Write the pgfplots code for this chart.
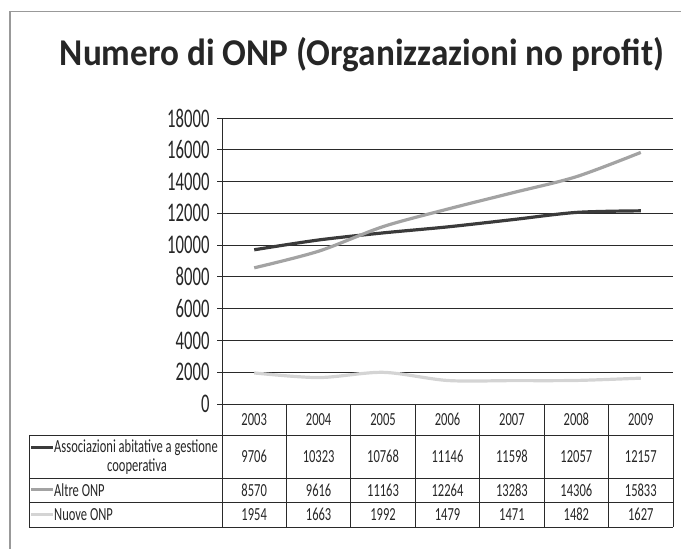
\documentclass[border=0pt]{standalone}
\usepackage{fontspec}
\setmainfont{Carlito}[FakeStretch=0.68]
\newfontfamily\titlefont{Carlito}[FakeStretch=0.93]
\newfontfamily\tickfont{Carlito}[FakeStretch=0.62]
\usepackage{pgfplots}
\pgfplotsset{compat=1.18}
\definecolor{cdark}{HTML}{3B3B3B}
\definecolor{cmid}{HTML}{A3A3A3}
\definecolor{clight}{HTML}{D4D4D4}
\definecolor{cgrid}{HTML}{2A2A2A}
\begin{document}
\begin{tikzpicture}[x=1bp,y=1bp]
\useasboundingbox (0,0) rectangle (681,549);
% outer frame
\draw[gray!80, line width=1.3bp] (10,0) -- (10,537.5) -- (681,537.5);
% title
\node[anchor=base, font=\titlefont\fontsize{38}{40}\selectfont\bfseries, text=black!85] at (362,483) {Numero di ONP (Organizzazioni no profit)};
\begin{axis}[
  at={(222bp,145bp)}, anchor=south west,
  width=451bp, height=286bp, scale only axis,
  xmin=0.5, xmax=7.5, ymin=0, ymax=18000,
  axis lines*=left,
  axis line style={cgrid, line width=0.9bp},
  xtick=\empty,
  ytick={0,2000,...,18000},
  scaled y ticks=false,
  yticklabel={\pgfmathprintnumber[fixed,precision=0,1000 sep={}]{\tick}},
  ymajorgrids, grid style={cgrid, line width=0.9bp},
  tick align=outside, major tick length=5bp,
  tick style={cgrid, line width=0.9bp},
  yticklabel style={font=\tickfont\fontsize{27}{29}\selectfont, text=black!85, xshift=-4bp},
  /pgf/number format/assume math mode=true,
  clip=false,
]
\addplot[cdark, line width=3.2bp, smooth, tension=0.5] coordinates {(1,9706) (2,10323) (3,10768) (4,11146) (5,11598) (6,12057) (7,12157)};
\addplot[cmid, line width=3.2bp, smooth, tension=0.5] coordinates {(1,8570) (2,9616) (3,11163) (4,12264) (5,13283) (6,14306) (7,15833)};
\addplot[clight, line width=3.2bp, smooth, tension=0.5] coordinates {(1,1954) (2,1663) (3,1992) (4,1479) (5,1471) (6,1482) (7,1627)};
\end{axis}
% table grid
\begin{scope}[cgrid, line width=0.9bp]
\foreach \yy in {435,478,502,527} \draw (29,549-\yy) -- (673,549-\yy);
\draw (29,549-435) -- (29,549-527);
\foreach \k in {0,...,7} \draw ({222+\k*64.43},549-404) -- ({222+\k*64.43},549-527);
\end{scope}
% table text
\begin{scope}[font=\fontsize{18.5}{20}\selectfont, text=black!85]
\foreach \yr [count=\i from 0] in {2003,2004,2005,2006,2007,2008,2009}
  \node at ({222+\i*64.43+32.2},549-419.5) {\yr};
\foreach \v [count=\i from 0] in {9706,10323,10768,11146,11598,12057,12157}
  \node at ({222+\i*64.43+32.2},549-456.5) {\v};
\foreach \v [count=\i from 0] in {8570,9616,11163,12264,13283,14306,15833}
  \node at ({222+\i*64.43+32.2},549-490) {\v};
\foreach \v [count=\i from 0] in {1954,1663,1992,1479,1471,1482,1627}
  \node at ({222+\i*64.43+32.2},549-514.5) {\v};
\node[anchor=west, inner sep=0pt] at (54,549-448) {Associazioni abitative a gestione};
\node[inner sep=0pt] at (137,549-467) {cooperativa};
\node[anchor=west, inner sep=0pt] at (54,549-490) {Altre ONP};
\node[anchor=west, inner sep=0pt] at (54,549-515) {Nuove ONP};
\end{scope}
\draw[cdark, line width=3bp] (31,549-448) -- (53,549-448);
\draw[cmid, line width=3bp] (31,549-490) -- (53,549-490);
\draw[clight, line width=3bp] (31,549-515) -- (53,549-515);
\end{tikzpicture}
\end{document}
